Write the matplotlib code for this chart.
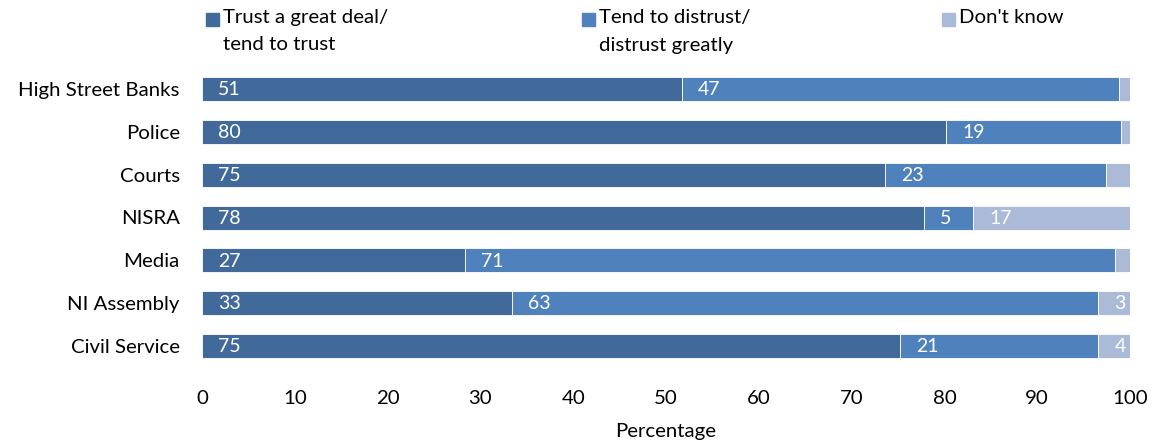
import matplotlib
matplotlib.use("Agg")
import matplotlib.pyplot as plt
from matplotlib.patches import Rectangle
import numpy as np

plt.rcParams['font.family'] = ['Lato', 'DejaVu Sans']

categories = ["High Street Banks", "Police", "Courts", "NISRA", "Media",
              "NI Assembly", "Civil Service"]
series_names = ["Trust a great deal/\ntend to trust",
                "Tend to distrust/\ndistrust greatly",
                "Don't know"]
trust = [51.7, 80.2, 73.6, 77.8, 28.3, 33.4, 75.2]
distrust = [47.1, 18.8, 23.8, 5.3, 70.1, 63.2, 21.4]
dont_know = [1.2, 1.0, 2.6, 16.9, 1.6, 3.4, 3.4]
trust_labels = ["51", "80", "75", "78", "27", "33", "75"]
distrust_labels = ["47", "19", "23", "5", "71", "63", "21"]
dk_labels = ["", "", "", "17", "", "3", "4"]
xticks = [0, 10, 20, 30, 40, 50, 60, 70, 80, 90, 100]

colors = ["#416A9B", "#4F81BD", "#AABAD7"]
FS = 14.7

W, H = 1166, 445
fig = plt.figure(figsize=(W / 100, H / 100), dpi=100)
ax = fig.add_axes([202 / W, 1 - 367.5 / H, (1130 - 202) / W, (367.5 - 67.5) / H])

y = np.arange(len(categories))
left = np.zeros(len(categories))
for vals, labels, col in zip([trust, distrust, dont_know],
                             [trust_labels, distrust_labels, dk_labels], colors):
    vals = np.array(vals)
    ax.barh(y, vals, left=left, height=0.56, color=col,
            edgecolor="white", linewidth=0.6)
    for yi, l, lab in zip(y, left, labels):
        if lab:
            ax.annotate(lab, xy=(l, yi), xytext=(11.5, -0.5),
                        textcoords="offset points", ha="left", va="center",
                        color="white", fontsize=14)
    left = left + vals

ax.set_ylim(len(categories) - 0.5, -0.5)
ax.set_xlim(0, 100)
ax.set_yticks(y)
ax.set_yticklabels(categories, fontsize=FS)
ax.set_xticks(xticks)
ax.set_xticklabels([str(t) for t in xticks], fontsize=FS)
ax.tick_params(axis="both", length=0)
ax.tick_params(axis="y", pad=16)
ax.tick_params(axis="x", pad=16)
for s in ax.spines.values():
    s.set_visible(False)
ax.set_xlabel("Percentage", fontsize=FS, labelpad=12)

# legend
leg_x = [206, 582, 942]
for lx, name, col in zip(leg_x, series_names, colors):
    fig.patches.append(Rectangle((lx / W, 1 - 26 / H), 13 / W, 13 / H,
                                 transform=fig.transFigure, color=col))
    fig.text((lx + 17) / W, 1 - 9 / H, name, fontsize=FS, ha="left",
             va="top", linespacing=1.75)

fig.savefig("out.png", dpi=100)
